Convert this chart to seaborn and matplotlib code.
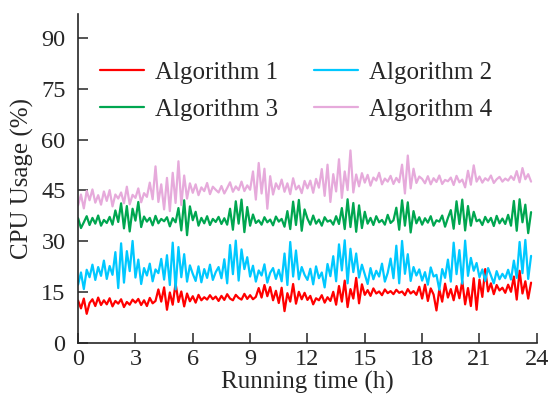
import numpy as np
import pandas as pd
import matplotlib
matplotlib.use("Agg")
import matplotlib.pyplot as plt
import seaborn as sns

# x grid: running time in hours (every 0.15 h, 0 .. 23.7)
hours = np.round(np.arange(159) * 0.15, 2)

alg1 = [12.5, 10.2, 13.1, 8.6, 11.8, 12.9, 10.9, 13.4, 11.2, 12.6,
        11.4, 13.2, 10.8, 12.4, 11.6, 12.9, 10.6, 12.1, 11.3, 12.8,
        11.9, 13.0, 11.2, 12.6, 10.9, 13.3, 11.7, 12.4, 15.8, 12.2,
        16.4, 9.8, 14.9, 11.3, 17.6, 12.1, 15.2, 10.8, 14.6, 12.3,
        13.8, 11.9, 14.2, 12.6, 13.5, 12.8, 14.1, 12.9, 13.7, 12.4,
        13.9, 12.7, 14.4, 13.1, 12.6, 14.2, 13.3, 12.8, 14.5, 13.0,
        14.1, 12.9, 13.6, 16.2, 13.4, 17.1, 13.8, 16.5, 12.6, 15.4,
        11.8, 16.3, 9.4, 14.7, 12.2, 17.4, 11.6, 15.1, 12.9, 14.8,
        12.7, 13.9, 11.4, 13.2, 12.6, 14.1, 11.9, 13.5, 12.4, 15.1,
        11.3, 16.8, 12.2, 18.4, 10.6, 15.9, 13.1, 19.2, 11.7, 17.3,
        14.2, 15.6, 13.9, 16.1, 14.6, 15.2, 14.1, 15.8, 14.7, 15.3,
        14.4, 15.7, 14.8, 15.2, 14.1, 15.9, 14.6, 15.3, 14.2, 16.6,
        13.1, 17.2, 12.4, 16.1, 14.3, 9.6, 15.8, 12.2, 17.5, 13.4,
        15.9, 12.6, 16.8, 13.2, 18.3, 11.4, 16.2, 10.9, 19.1, 9.8,
        18.7, 13.6, 21.8, 15.2, 17.6, 14.4, 17.1, 15.5, 16.3, 14.8,
        17.2, 15.1, 19.6, 12.8, 21.3, 14.6, 18.2, 13.1, 17.8]

alg2 = [17.2, 20.8, 15.9, 21.6, 19.4, 23.1, 18.6, 22.4, 19.8, 24.3,
        18.9, 22.7, 20.1, 26.8, 16.2, 29.4, 17.8, 27.1, 21.2, 30.1,
        19.3, 24.6, 17.4, 22.1, 19.9, 23.4, 18.2, 21.7, 20.6, 24.8,
        18.7, 25.9, 17.1, 29.6, 15.8, 28.3, 19.4, 26.2, 18.1, 22.9,
        20.4, 18.3, 22.6, 17.9, 21.8, 19.2, 23.1, 18.6, 20.9, 22.4,
        19.1, 24.7, 17.6, 28.9, 20.3, 30.2, 18.4, 27.6, 21.8, 25.3,
        19.6, 22.8, 18.1, 21.4, 19.9, 23.2, 17.8, 20.7, 22.1, 18.9,
        21.6, 18.2, 26.4, 17.1, 29.8, 19.6, 27.3, 18.8, 22.4, 20.1,
        18.6, 21.9, 17.3, 22.6, 19.1, 20.8, 16.4, 23.3, 19.7, 25.6,
        18.2, 29.1, 21.4, 30.3, 17.6, 27.8, 20.9, 26.4, 19.3, 23.1,
        20.2, 17.4, 22.1, 18.8, 21.3, 19.6, 23.4, 18.1, 20.7, 24.9,
        19.1, 28.7, 17.6, 30.1, 20.4, 26.2, 18.3, 22.4, 19.9, 21.7,
        18.4, 20.9, 17.2, 22.3, 19.6, 20.1, 15.7, 21.8, 19.2, 24.6,
        18.1, 29.6, 20.3, 27.4, 17.5, 30.2, 19.8, 25.1, 21.3, 23.6,
        19.4, 21.7, 18.3, 22.1, 19.9, 17.6, 21.2, 18.8, 20.4, 19.1,
        21.6, 18.7, 24.3, 19.2, 29.8, 20.6, 30.4, 18.9, 25.7]

alg3 = [36.8, 33.9, 35.6, 37.4, 34.8, 36.9, 35.2, 37.6, 34.6, 36.3,
        35.4, 37.2, 34.9, 39.1, 35.7, 41.2, 33.8, 40.4, 32.9, 39.6,
        36.1, 41.6, 34.2, 37.3, 35.8, 36.9, 34.7, 37.5, 35.3, 36.6,
        35.9, 37.1, 34.4, 36.8, 35.6, 39.8, 33.2, 42.1, 31.8, 40.3,
        36.2, 38.7, 34.6, 36.9, 35.3, 37.4, 34.8, 36.6, 35.7, 37.2,
        35.1, 36.8, 34.9, 39.6, 33.4, 41.8, 35.2, 42.3, 32.7, 40.1,
        34.6, 37.9, 35.4, 36.2, 34.9, 37.1, 35.6, 36.4, 34.7, 37.3,
        35.8, 36.6, 34.3, 38.9, 33.6, 41.7, 34.8, 42.2, 33.1, 39.4,
        36.7, 34.9, 37.6, 35.2, 36.4, 34.6, 37.1, 35.8, 36.2, 34.9,
        37.4, 35.1, 39.8, 33.6, 42.4, 34.2, 41.3, 32.8, 40.6, 33.9,
        38.7, 35.2, 36.9, 34.8, 37.4, 35.6, 36.3, 34.9, 37.8, 35.4,
        36.2, 39.9, 33.4, 42.1, 34.6, 41.5, 32.6, 38.9, 35.3, 37.1,
        34.9, 36.8, 35.5, 37.4, 34.6, 36.2, 35.8, 37.6, 34.3, 36.9,
        39.2, 33.7, 41.8, 35.1, 42.3, 33.2, 40.4, 34.6, 38.7, 35.9,
        36.4, 34.8, 37.2, 35.6, 36.9, 34.5, 37.5, 35.3, 36.7, 35.1,
        37.8, 34.6, 41.9, 33.1, 42.4, 35.6, 40.8, 32.4, 38.6]

alg4 = [40.6, 43.8, 39.7, 44.9, 42.1, 45.3, 41.4, 43.6, 40.8, 44.7,
        41.9, 45.1, 40.3, 43.8, 42.6, 44.4, 41.2, 46.1, 40.9, 43.7,
        42.8, 45.6, 41.5, 44.2, 43.1, 47.3, 42.4, 52.1, 41.6, 46.8,
        39.4, 48.7, 38.9, 50.2, 41.3, 53.6, 40.7, 49.4, 42.6, 47.1,
        44.3, 46.8, 43.6, 45.9, 44.8, 47.2, 43.9, 46.1, 45.2, 44.4,
        46.3, 44.1, 45.7, 47.4, 44.6, 46.2, 45.1, 47.6, 44.8, 46.5,
        45.2, 50.6, 42.3, 53.1, 44.1, 51.4, 39.6, 49.2, 43.8, 47.1,
        45.4, 48.2, 44.6, 47.1, 43.9, 48.6, 45.3, 46.4, 44.2, 47.8,
        45.6, 47.9, 44.3, 48.4, 45.8, 51.3, 43.4, 52.6, 41.6, 49.8,
        44.7, 54.2, 42.8, 50.6, 45.1, 56.8, 44.4, 49.7, 46.2, 50.1,
        47.3, 49.6, 46.4, 48.8, 47.9, 50.2, 46.8, 48.5, 47.6, 49.3,
        46.9, 48.7, 47.4, 52.6, 44.1, 55.3, 45.6, 51.4, 47.2, 49.1,
        48.4, 47.1, 49.2, 46.8, 48.6, 47.5, 49.4, 46.9, 48.1, 47.7,
        48.8, 46.6, 49.3, 47.4, 48.2, 45.9, 50.8, 46.7, 52.4, 47.6,
        49.1, 47.3, 48.6, 47.9, 49.4, 47.2, 48.3, 49.0, 47.6, 48.5,
        47.9, 49.2, 48.1, 50.7, 47.4, 51.6, 48.3, 49.8, 47.6]

series_names = ["Algorithm 1", "Algorithm 2", "Algorithm 3", "Algorithm 4"]
colors = ["#ff0000", "#00c8ff", "#00a650", "#e6aadb"]
x_ticks = [0, 3, 6, 9, 12, 15, 18, 21, 24]
y_ticks = [0, 15, 30, 45, 60, 75, 90]

frames = []
for name, vals in zip(series_names, [alg1, alg2, alg3, alg4]):
    frames.append(pd.DataFrame({"hours": hours, "usage": vals, "series": name}))
df = pd.concat(frames, ignore_index=True)

sns.set_style("ticks")
plt.rcParams["font.family"] = ["Liberation Serif", "DejaVu Serif"]

fig = plt.figure(figsize=(5.5, 4.04), dpi=100)
ax = fig.add_axes([0.142, 0.151, 0.834, 0.814])

sns.lineplot(data=df, x="hours", y="usage", hue="series", palette=colors,
             linewidth=1.6, ax=ax, legend=True)

ax.set_xlim(0, 24)
ax.set_ylim(0, 97)
ax.set_xticks(x_ticks)
ax.set_yticks(y_ticks)
ax.tick_params(direction="in", length=7, width=1.1, labelsize=17.5)
ax.tick_params(axis="y", pad=9)
ax.tick_params(axis="x", pad=4)
for s in ["top", "right"]:
    ax.spines[s].set_visible(False)
for s in ["left", "bottom"]:
    ax.spines[s].set_linewidth(1.2)
ax.set_xlabel("Running time (h)", fontsize=18, labelpad=1)
ax.set_ylabel("CPU Usage (%)", fontsize=18, labelpad=5)

handles, labels = ax.get_legend_handles_labels()
order = [0, 2, 1, 3]  # row-major: 1,2 on first row; 3,4 on second
leg = ax.legend([handles[i] for i in order], [labels[i] for i in order],
                loc="upper left", bbox_to_anchor=(0.02, 0.895), ncol=2,
                frameon=False, fontsize=18, handlelength=1.75,
                handletextpad=0.45, columnspacing=1.45, labelspacing=0.6,
                borderpad=0)
for line in leg.get_lines():
    line.set_linewidth(1.6)

fig.savefig("out.png", dpi=100)
